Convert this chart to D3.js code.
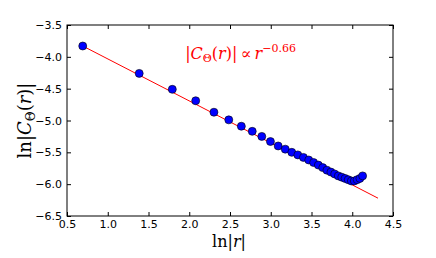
<!DOCTYPE html>
<html>
<head>
<meta charset="utf-8">
<script src="https://cdn.jsdelivr.net/npm/d3@7"></script>
<style>
  body { margin: 0; background: #fff; }
  svg { display: block; }
  .tick text { font-family: "DejaVu Sans", sans-serif; font-size: 11px; fill: #000; }
  .math { font-family: "DejaVu Serif", "Liberation Serif", serif; }
</style>
</head>
<body>
<script>
// ln|r| values of the measured points
var lnR = [0.693, 1.386, 1.792, 2.079, 2.303, 2.485, 2.639, 2.773, 2.890, 2.996,
  3.091, 3.178, 3.258, 3.332, 3.401, 3.466, 3.526, 3.584, 3.638, 3.689,
  3.738, 3.784, 3.829, 3.871, 3.912, 3.951, 3.989, 4.025, 4.060, 4.094, 4.127];
// ln|C(r)| values
var lnC = [-3.83, -4.26, -4.51, -4.69, -4.87, -4.99, -5.09, -5.17, -5.25, -5.33,
  -5.40, -5.45, -5.50, -5.54, -5.58, -5.62, -5.66, -5.70, -5.74, -5.78,
  -5.81, -5.84, -5.87, -5.89, -5.91, -5.93, -5.95, -5.95, -5.93, -5.91, -5.87];
// power-law fit line end points
var fitX = [0.693, 4.316];
var fitY = [-3.83, -6.22];

var xTicks = [0.5, 1.0, 1.5, 2.0, 2.5, 3.0, 3.5, 4.0, 4.5];
var yTicks = [-6.5, -6.0, -5.5, -5.0, -4.5, -4.0, -3.5];

var W = 436, H = 258;
var margin = { top: 25, right: 43, bottom: 42, left: 67 };
var width = W - margin.left - margin.right;
var height = H - margin.top - margin.bottom;

var svg = d3.select("body").append("svg")
  .attr("width", W)
  .attr("height", H);

var g = svg.append("g")
  .attr("transform", "translate(" + margin.left + "," + margin.top + ")");

var x = d3.scaleLinear().domain([0.5, 4.5]).range([0, width]);
var y = d3.scaleLinear().domain([-6.5, -3.5]).range([height, 0]);

var fmt = function (d) { return d3.format(".1f")(d).replace("-", "\u2212"); };

// axes with inward ticks
g.append("g").attr("class", "x axis")
  .attr("transform", "translate(0," + height + ")")
  .call(d3.axisBottom(x).tickValues(xTicks).tickFormat(fmt).tickSizeInner(-4).tickSizeOuter(0).tickPadding(4));
g.append("g").attr("class", "x axis top")
  .call(d3.axisTop(x).tickValues(xTicks).tickFormat("").tickSizeInner(-4).tickSizeOuter(0));
g.append("g").attr("class", "y axis")
  .call(d3.axisLeft(y).tickValues(yTicks).tickFormat(fmt).tickSizeInner(-4).tickSizeOuter(0).tickPadding(5));
g.append("g").attr("class", "y axis right")
  .attr("transform", "translate(" + width + ",0)")
  .call(d3.axisRight(y).tickValues(yTicks).tickFormat("").tickSizeInner(-4).tickSizeOuter(0));

g.selectAll(".axis path.domain").remove();
g.selectAll(".axis line").attr("stroke", "#000");

g.append("rect")
  .attr("width", width).attr("height", height)
  .attr("fill", "none").attr("stroke", "#000").attr("stroke-width", 1);

// fit line
var fit = fitX.map(function (d, i) { return [d, fitY[i]]; });
g.append("path")
  .datum(fit)
  .attr("d", d3.line().x(function (d) { return x(d[0]); }).y(function (d) { return y(d[1]); }))
  .attr("stroke", "#ff0000").attr("stroke-width", 1).attr("fill", "none");

// points
g.selectAll("circle.pt")
  .data(lnR.map(function (d, i) { return [d, lnC[i]]; }))
  .enter().append("circle")
  .attr("class", "pt")
  .attr("cx", function (d) { return x(d[0]); })
  .attr("cy", function (d) { return y(d[1]); })
  .attr("r", 4)
  .attr("fill", "#0000ff")
  .attr("stroke", "#000").attr("stroke-width", 0.6);

// annotation
var ann = g.append("text")
  .attr("class", "math")
  .attr("x", x(1.95)).attr("y", y(-4.03))
  .attr("fill", "#ff0000")
  .attr("font-size", 16);
ann.append("tspan").text("|");
ann.append("tspan").attr("font-style", "italic").text("C");
ann.append("tspan").attr("font-size", 11).attr("dy", 3).text("\u0398");
ann.append("tspan").attr("dy", -3).text("(");
ann.append("tspan").attr("font-style", "italic").text("r");
ann.append("tspan").text(")|\u2009\u221D\u2009");
ann.append("tspan").attr("font-style", "italic").text("r");
ann.append("tspan").attr("font-size", 11).attr("dy", -7).text("\u22120.66");

// axis labels
var xl = svg.append("text")
  .attr("class", "math")
  .attr("x", margin.left + width / 2 - 1).attr("y", 247)
  .attr("text-anchor", "middle")
  .attr("font-size", 16);
xl.append("tspan").text("ln|");
xl.append("tspan").attr("font-style", "italic").text("r");
xl.append("tspan").text("|");

var yl = svg.append("text")
  .attr("class", "math")
  .attr("transform", "translate(31," + (margin.top + height / 2) + ") rotate(-90)")
  .attr("text-anchor", "middle")
  .attr("font-size", 18);
yl.append("tspan").text("ln|");
yl.append("tspan").attr("font-style", "italic").text("C");
yl.append("tspan").attr("font-size", 12).attr("dy", 4).text("\u0398");
yl.append("tspan").attr("dy", -4).text("(");
yl.append("tspan").attr("font-style", "italic").text("r");
yl.append("tspan").text(")|");
</script>
</body>
</html>
